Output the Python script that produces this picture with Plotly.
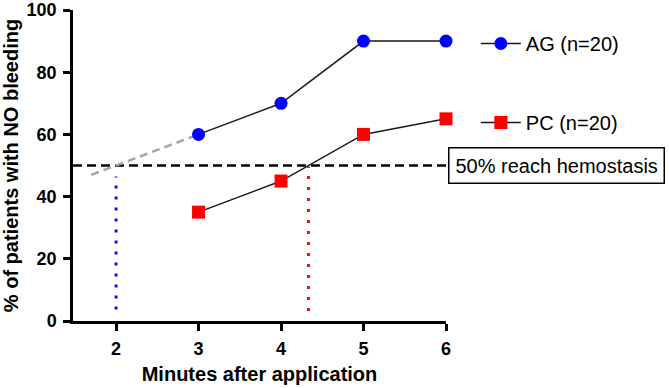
import plotly.graph_objects as go

minutes = [3, 4, 5, 6]
ag_values = [60, 70, 90, 90]
pc_values = [35, 45, 60, 65]
ag_label = "AG (n=20)"
pc_label = "PC (n=20)"
threshold = 50
threshold_label = "50% reach hemostasis"
x_ticks = [2, 3, 4, 5, 6]
y_ticks = [0, 20, 40, 60, 80, 100]
# extrapolation of AG back to the 50% line
ag_extrap_x = [1.7, 3]
ag_extrap_y = [47, 60]
ag_cross_x = 2
ag_drop_y = [3.7, 46.5]
pc_cross_x = 4.333
pc_drop_y = [3.2, 49.7]
x_range = [1.478, 6]

FONT = "Arial, Liberation Sans, sans-serif"

fig = go.Figure()
fig.add_trace(go.Scatter(x=x_range, y=[threshold, threshold], mode="lines",
                         line=dict(color="black", width=2.5, dash="9px,5px"),
                         showlegend=False, hoverinfo="skip"))
fig.add_trace(go.Scatter(x=ag_extrap_x, y=ag_extrap_y, mode="lines",
                         line=dict(color="#A6A6A6", width=2.5, dash="8px,5px"),
                         showlegend=False, hoverinfo="skip"))
fig.add_trace(go.Scatter(x=[ag_cross_x, ag_cross_x], y=ag_drop_y, mode="lines",
                         line=dict(color="#1010F0", width=3, dash="3px,8px"),
                         showlegend=False, hoverinfo="skip"))
fig.add_trace(go.Scatter(x=[pc_cross_x, pc_cross_x], y=pc_drop_y, mode="lines",
                         line=dict(color="#F01010", width=3, dash="3px,8px"),
                         showlegend=False, hoverinfo="skip"))
fig.add_trace(go.Scatter(x=minutes, y=ag_values, mode="lines+markers", name=ag_label,
                         line=dict(color="#1a1a1a", width=1.5),
                         marker=dict(symbol="circle", size=13, color="#0000FF"),
                         legendgroup="ag", cliponaxis=False))
fig.add_trace(go.Scatter(x=minutes, y=pc_values, mode="lines+markers", name=pc_label,
                         line=dict(color="#1a1a1a", width=1.5),
                         marker=dict(symbol="square", size=13, color="#FF0000"),
                         legendgroup="pc", cliponaxis=False))

fig.add_annotation(text=threshold_label, xref="paper", x=1.005, xanchor="left",
                   yref="y", y=threshold, yanchor="middle", showarrow=False,
                   font=dict(family=FONT, size=20, color="black"),
                   bordercolor="black", borderwidth=1.5, borderpad=6, bgcolor="white")

axis_common = dict(showline=True, linecolor="black", linewidth=2.5, ticks="outside",
                   ticklen=7, tickwidth=2.5, tickcolor="black", showgrid=False,
                   zeroline=False, ticklabeloverflow="allow", automargin=False,
                   tickfont=dict(family=FONT, size=18, color="black", weight="bold"))

fig.update_layout(
    width=669, height=388,
    margin=dict(l=73, r=223, t=10, b=67),
    paper_bgcolor="white", plot_bgcolor="white",
    xaxis=dict(range=x_range, tickvals=x_ticks, ticklabelstandoff=3,
               title=dict(text="Minutes after application", standoff=9,
                          font=dict(family=FONT, size=20, color="black", weight="bold")),
               **axis_common),
    yaxis=dict(range=[0, 100], tickvals=y_ticks, ticklabelstandoff=3,
               title=dict(text="% of patients with NO bleeding", standoff=9,
                          font=dict(family=FONT, size=20, color="black", weight="bold")),
               **axis_common),
    legend=dict(x=1.08, xanchor="left", y=0.955, yanchor="top",
                font=dict(family=FONT, size=20, color="black"),
                tracegroupgap=50, bgcolor="rgba(0,0,0,0)", itemwidth=40),
)

fig.write_html("out.html")
